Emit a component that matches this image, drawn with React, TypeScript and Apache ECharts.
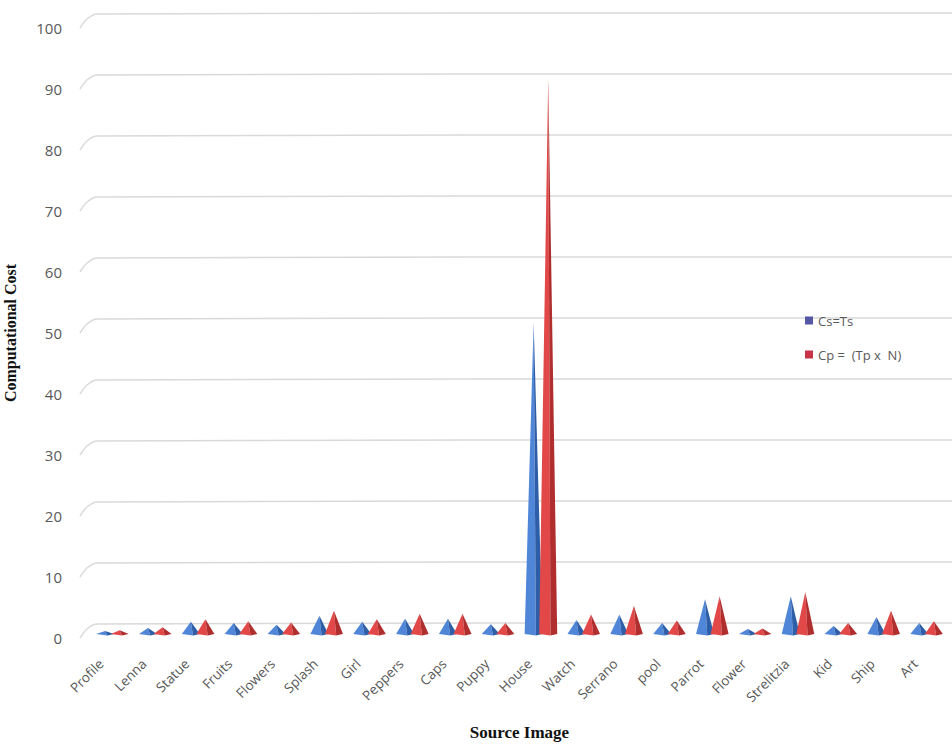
import React, { useEffect, useRef } from "react";
import * as echarts from "echarts";

const categories = [
  "Profile", "Lenna", "Statue", "Fruits", "Flowers", "Splash", "Girl", "Peppers", "Caps", "Puppy",
  "House", "Watch", "Serrano", "pool", "Parrot", "Flower", "Strelitzia", "Kid", "Ship", "Art",
];
const csValues = [0.5, 1.0, 2.0, 1.8, 1.5, 3.0, 2.0, 2.5, 2.5, 1.6, 51, 2.3, 3.2, 1.8, 5.7, 0.8, 6.2, 1.3, 2.8, 1.8];
const cpValues = [0.6, 1.1, 2.4, 2.1, 1.9, 3.8, 2.4, 3.3, 3.3, 1.8, 91, 3.2, 4.6, 2.2, 6.2, 0.9, 6.9, 1.8, 3.8, 2.1];
const yTicks = [0, 10, 20, 30, 40, 50, 60, 70, 80, 90, 100];

const CS_NAME = "Cs=Ts";
const CP_NAME = "Cp =  (Tp x  N)";

function coneRenderer(offsetRatio: number, light: string, dark: string) {
  return (params: any, api: any) => {
    const idx = api.value(0);
    const v = api.value(1);
    const top = api.coord([idx, v]);
    const base = api.coord([idx, 0]);
    const bw = api.size([1, 0])[0];
    const cx = base[0] + offsetRatio * bw;
    const half = 0.21 * bw;
    const by = base[1] - 4;
    const ty = top[1] - 4;
    const mid = cx + half * 0.25;
    return {
      type: "group",
      children: [
        {
          type: "polygon",
          shape: { points: [[cx - half, by], [cx, ty], [mid, by + 1.5]] },
          style: { fill: light },
        },
        {
          type: "polygon",
          shape: { points: [[mid, by + 1.5], [cx, ty], [cx + half, by]] },
          style: { fill: dark },
        },
      ],
    };
  };
}

export default function App() {
  const ref = useRef<HTMLDivElement>(null);
  useEffect(() => {
    document.body.style.margin = "0";
    const chart = echarts.init(ref.current!, undefined, { renderer: "svg" });
    const option: any = {
      animation: false,
      backgroundColor: "#ffffff",
      textStyle: { fontFamily: "Open Sans" },
      legend: {
        orient: "vertical",
        left: 800,
        top: 309,
        itemGap: 21,
        itemWidth: 8,
        itemHeight: 8,
        icon: "rect",
        textStyle: { color: "#595959", fontSize: 13, fontFamily: "Open Sans" },
        data: [
          { name: CS_NAME, itemStyle: { color: "#5457a6" } },
          { name: CP_NAME, itemStyle: { color: "#c83346" } },
        ],
      },
      grid: { left: 91, right: 4, top: 28, bottom: 107, outerBoundsMode: "none", containLabel: false },
      xAxis: {
        type: "category",
        data: categories,
        axisLine: { show: false },
        axisTick: { show: false },
        axisLabel: {
          rotate: 45,
          color: "#595959",
          fontSize: 13.5,
          margin: 12,
          interval: 0,
          padding: [0, 16, 0, 0],
          fontFamily: "Open Sans",
        },
        name: "Source Image",
        nameLocation: "middle",
        nameGap: 86,
        nameTextStyle: {
          fontFamily: "Liberation Serif",
          fontWeight: "bold",
          fontSize: 17,
          color: "#111",
        },
      },
      yAxis: {
        type: "value",
        min: 0,
        max: 100,
        interval: 10,
        axisLine: { show: false },
        axisTick: { show: false },
        splitLine: { show: false },
        axisLabel: { color: "#595959", fontSize: 15, margin: 29, fontFamily: "Open Sans" },
        name: "Computational Cost",
        nameLocation: "middle",
        nameGap: 73,
        nameRotate: 90,
        nameTextStyle: {
          fontFamily: "Liberation Serif",
          fontWeight: "bold",
          fontSize: 16,
          color: "#111",
        },
      },
      series: [
        {
          name: "gridlines",
          type: "custom",
          silent: true,
          z: 0,
          data: yTicks.map((v) => [0, v]),
          encode: { x: 0, y: 1 },
          renderItem: (params: any, api: any) => {
            const p = api.coord([0, api.value(1)]);
            const cs = params.coordSys;
            const x0 = cs.x - 11;
            const y = p[1];
            return {
              type: "polyline",
              shape: {
                points: [
                  [x0, y],
                  [x0 + 7, y - 9],
                  [x0 + 17, y - 14],
                  [cs.x + cs.width + 10, y - 15],
                ],
                smooth: 0.3,
              },
              style: { stroke: "#d9d9d9", lineWidth: 1.5, fill: "none" },
            };
          },
        },
        {
          name: CS_NAME,
          type: "custom",
          z: 2,
          itemStyle: { color: "#5457a6" },
          data: csValues.map((v, i) => [i, v]),
          encode: { x: 0, y: 1 },
          renderItem: coneRenderer(-0.17, "#4f86d8", "#2e5ea8"),
        },
        {
          name: CP_NAME,
          type: "custom",
          z: 3,
          itemStyle: { color: "#c83346" },
          data: cpValues.map((v, i) => [i, v]),
          encode: { x: 0, y: 1 },
          renderItem: coneRenderer(0.17, "#e24848", "#b02e2e"),
        },
      ],
    };
    chart.setOption(option);
    return () => chart.dispose();
  }, []);
  return <div ref={ref} style={{ width: 952, height: 745 }} />;
}
